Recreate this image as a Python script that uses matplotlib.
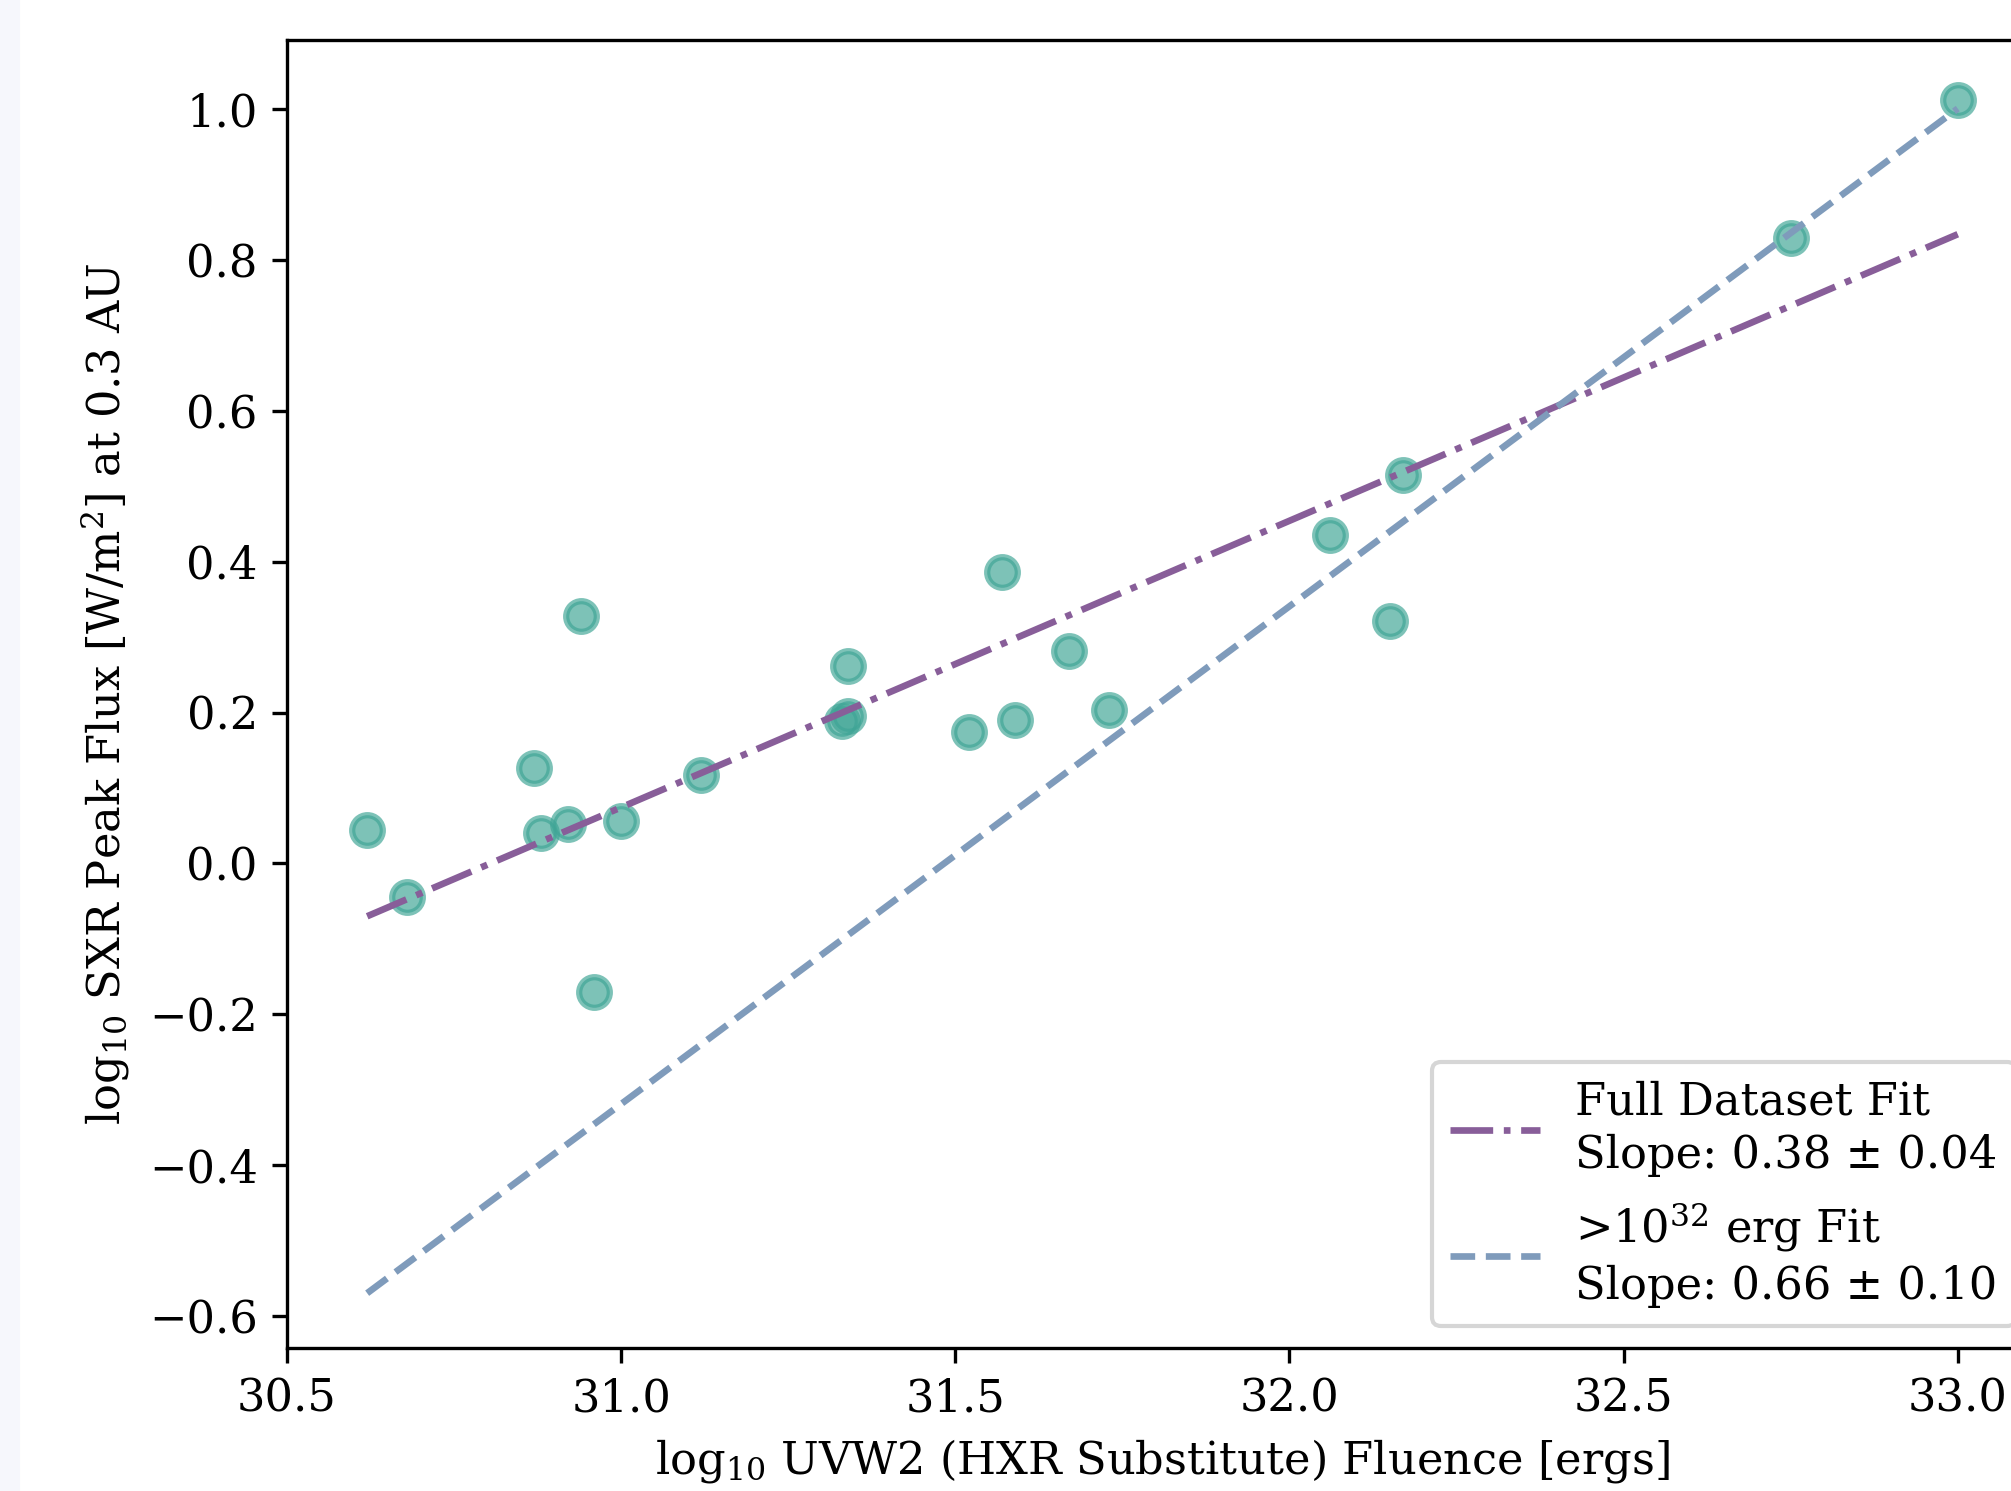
import numpy as np
import matplotlib
matplotlib.use("Agg")
import matplotlib.pyplot as plt
from matplotlib.patches import Rectangle

# log10 UVW2 fluence (x) and log10 SXR peak flux (y)
fluence = [30.62, 30.68, 30.87, 30.88, 30.92, 30.94, 30.96, 31.00, 31.12,
           31.33, 31.34, 31.34, 31.52, 31.57, 31.59, 31.67, 31.73,
           32.06, 32.15, 32.17, 32.75, 33.00]
sxr_peak = [0.044, -0.044, 0.126, 0.040, 0.053, 0.328, -0.170, 0.056, 0.117,
            0.189, 0.196, 0.262, 0.175, 0.386, 0.190, 0.282, 0.204,
            0.435, 0.321, 0.515, 0.830, 1.012]

# linear fits: slope, intercept
fit_labels = ["Full Dataset Fit\nSlope: 0.38 \u00b1 0.04",
              ">$10^{32}$ erg Fit\nSlope: 0.66 \u00b1 0.10"]
fit_slopes = [0.38, 0.66]
fit_intercepts = [-11.7056, -20.779]
fit_colors = ["#885e99", "#7f9bbb"]
fit_styles = ["-.", "--"]

plt.rcParams['font.family'] = ['DejaVu Serif']
plt.rcParams['mathtext.fontset'] = 'dejavuserif'
plt.rcParams['font.size'] = 10.75

fig = plt.figure(figsize=(2011 / 300, 1491 / 300), dpi=300)
fig.patches.append(Rectangle((0, 0), 0.009, 1, transform=fig.transFigure,
                             color="#f6f7fc", zorder=-10))
ax = fig.add_axes([0.1427, 0.0959, 0.8707, 0.8773])

x = np.array(fluence)
y = np.array(sxr_peak)
ax.scatter(x, y, s=54, color="#3fa596", alpha=0.68, linewidths=1.5, zorder=1)

xfit = np.array([x.min(), x.max()])
for lab, m, b, c, ls in zip(fit_labels, fit_slopes, fit_intercepts, fit_colors, fit_styles):
    ax.plot(xfit, m * xfit + b, ls, color=c, lw=1.6, label=lab, zorder=2)

ax.set_xlim(30.5, 33.12)
ax.set_ylim(-0.6425, 1.092)
ax.set_xticks([30.5, 31.0, 31.5, 32.0, 32.5, 33.0])
ax.set_yticks([-0.6, -0.4, -0.2, 0.0, 0.2, 0.4, 0.6, 0.8, 1.0])

ax.set_xlabel("log$_{10}$ UVW2 (HXR Substitute) Fluence [ergs]", labelpad=4)
ax.set_ylabel("log$_{10}$ SXR Peak Flux [W/m$^2$] at 0.3 AU")
leg = ax.legend(loc="lower right", labelspacing=0.55)
for t in leg.get_texts():
    t.set_linespacing(1.3)

fig.savefig("out.png", dpi=300)
